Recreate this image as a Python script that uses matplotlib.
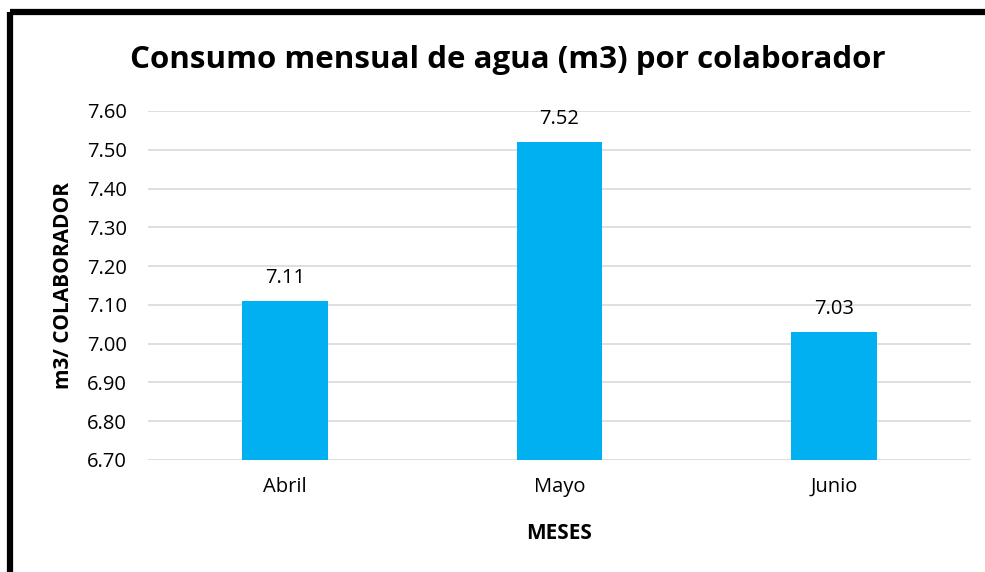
import matplotlib
matplotlib.use('Agg')
import matplotlib.pyplot as plt
from matplotlib.lines import Line2D

plt.rcParams['font.family'] = ['Open Sans', 'DejaVu Sans']

MESES = ['Abril', 'Mayo', 'Junio']
CONSUMO = [7.11, 7.52, 7.03]
Y_TICKS = [6.70, 6.80, 6.90, 7.00, 7.10, 7.20, 7.30, 7.40, 7.50, 7.60]

fig = plt.figure(figsize=(9.85, 5.72), dpi=100)
ax = fig.add_axes([0.150, 0.196, 0.836, 0.610])

x = range(len(MESES))
ax.bar(x, CONSUMO, width=0.31, color='#00B0F0', zorder=3)
ax.set_ylim(6.70, 7.60)
ax.set_xlim(-0.5, len(MESES) - 0.5)
ax.set_yticks(Y_TICKS)
ax.set_yticklabels([f'{v:.2f}' for v in Y_TICKS], fontsize=14.5)
ax.set_xticks(list(x))
ax.set_xticklabels(MESES, fontsize=14.5)
ax.tick_params(axis='y', length=0, pad=15)
ax.tick_params(axis='x', length=0, pad=12)
ax.grid(axis='y', color='#D9D9D9', linewidth=1.2, zorder=0)
for s in ax.spines.values():
    s.set_visible(False)

for xi, v in zip(x, CONSUMO):
    ax.annotate(f'{v:.2f}', (xi, v), xytext=(0, 9), textcoords='offset points',
                ha='center', va='bottom', fontsize=14.5)

ax.set_xlabel('MESES', fontsize=15, fontweight='bold', labelpad=19)
ax.set_ylabel('m3/ COLABORADOR', fontsize=15, fontweight='bold', labelpad=9)

fig.text(0.516, 0.895, 'Consumo mensual de agua (m3) por colaborador',
         ha='center', va='center', fontsize=22.5, fontweight='bold')

# black frame (top and left only)
fig.add_artist(Line2D([0.010, 1.0], [0.979, 0.979], color='black', linewidth=4.5,
                      transform=fig.transFigure, solid_capstyle='butt'))
fig.add_artist(Line2D([0.010, 0.010], [0.979, 0.0], color='black', linewidth=4.5,
                      transform=fig.transFigure, solid_capstyle='butt'))

fig.savefig('out.png', dpi=100)
